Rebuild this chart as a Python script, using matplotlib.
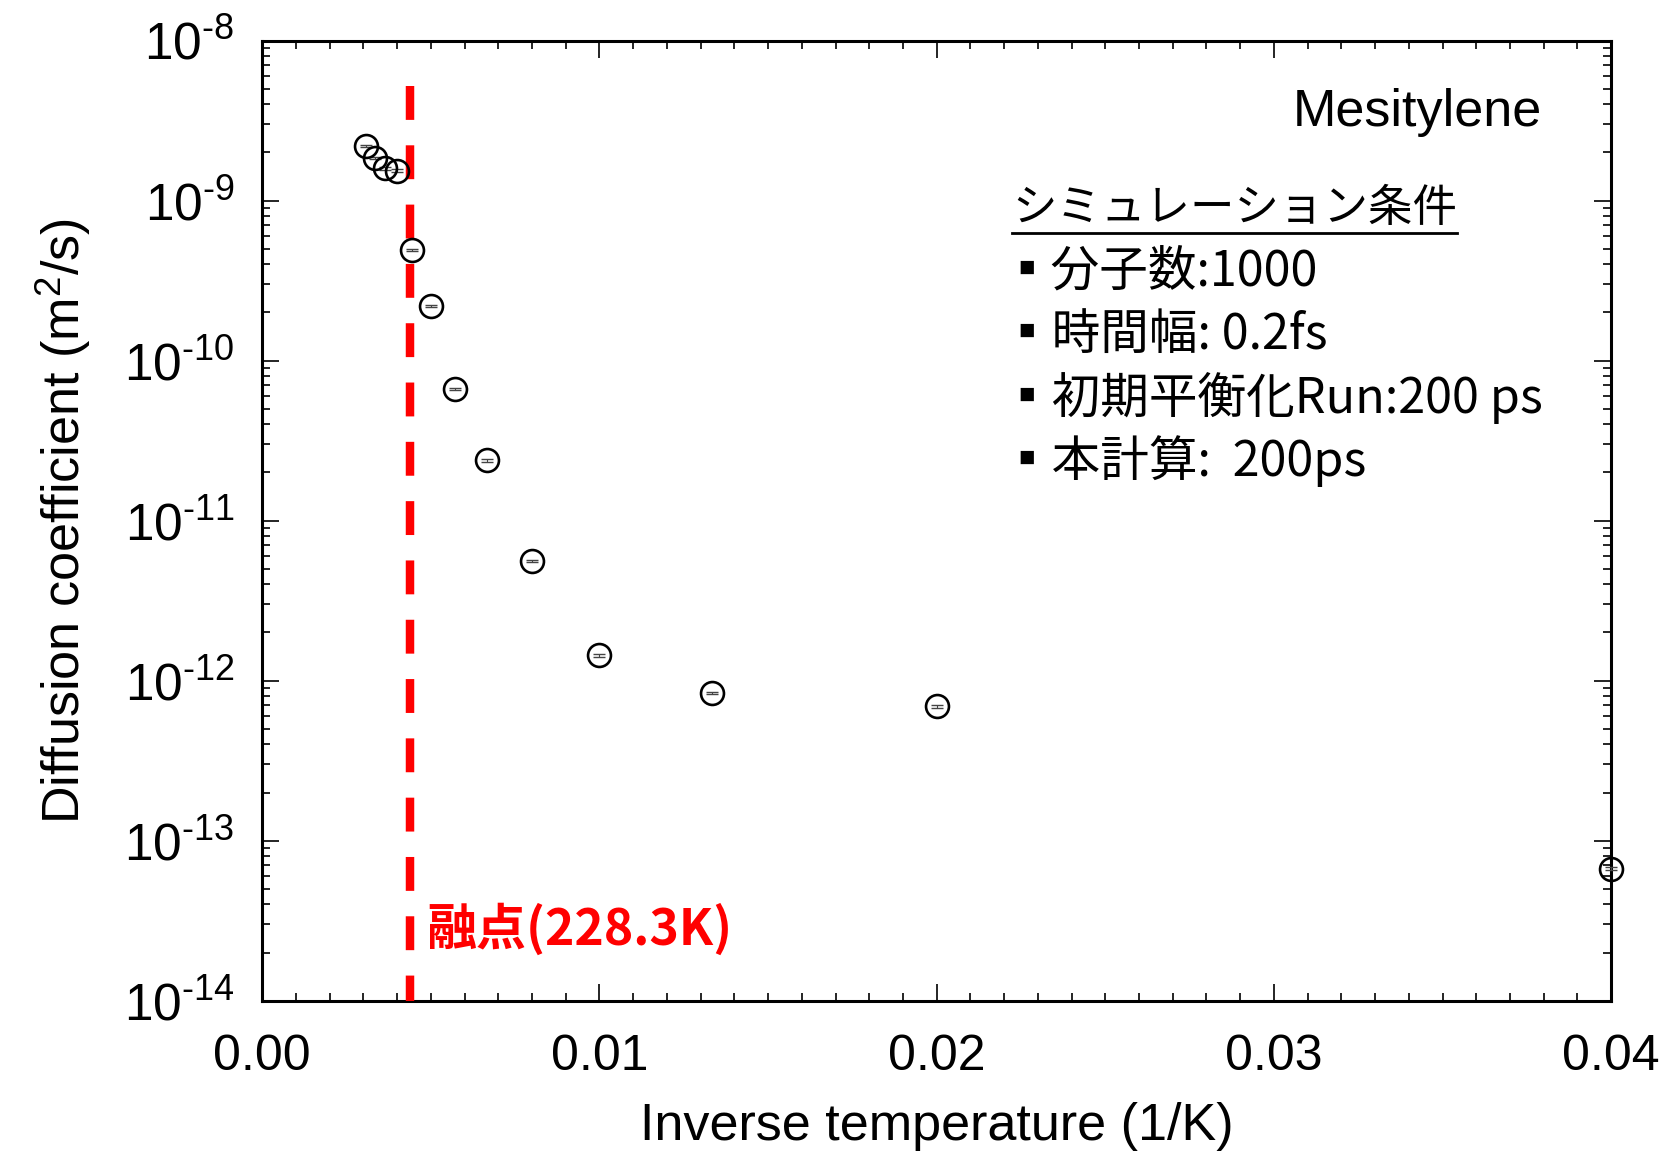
import numpy as np
import matplotlib
matplotlib.use("Agg")
import matplotlib.pyplot as plt
from matplotlib.ticker import MultipleLocator, LogLocator, NullFormatter, FuncFormatter

plt.rcParams["font.family"] = ["Liberation Sans", "Noto Sans CJK JP", "DejaVu Sans"]
plt.rcParams["mathtext.fontset"] = "custom"
plt.rcParams["mathtext.rm"] = "Liberation Sans"
plt.rcParams["mathtext.it"] = "Liberation Sans:italic"

# MD results for mesitylene
temperature = [325, 298, 275, 250, 225, 200, 175, 150, 125, 100, 75, 50, 25]  # K
diffusion = [2.19e-9, 1.85e-9, 1.59e-9, 1.54e-9, 4.9e-10, 2.2e-10, 6.65e-11,
             2.38e-11, 5.6e-12, 1.44e-12, 8.4e-13, 6.9e-13, 6.7e-14]  # m^2/s
diffusion_err = [4e-11, 3e-11, 3e-11, 3e-11, 8e-12, 4e-12, 1.2e-12,
                 4e-13, 1e-13, 2.5e-14, 1.5e-14, 1.2e-14, 1.2e-15]
melting_point = 228.3  # K

title_text = "Mesitylene"
cond_header = "シミュレーション条件"
cond_lines = ["▪分子数:1000", "▪時間幅: 0.2fs", "▪初期平衡化Run:200 ps", "▪本計算:  200ps"]
mp_label = "融点(228.3K)"

inv_T = 1.0 / np.array(temperature)

fig = plt.figure(figsize=(16.71, 11.58), dpi=100)
ax = fig.add_axes([0.1569, 0.1358, 0.8073, 0.8292])

ax.errorbar(inv_T, diffusion, yerr=diffusion_err, fmt="none", ecolor="#444444",
            elinewidth=0.8, capsize=4, capthick=1.0, clip_on=False, zorder=5)
ax.plot(inv_T, diffusion, "o", mfc="none", mec="black", ms=16.5, mew=1.9,
        clip_on=False, zorder=6)

# melting point marker line
x_mp = 1.0 / melting_point
ax.plot([x_mp, x_mp], [5.2e-9, 1e-14], color="red", lw=6.1,
        linestyle=(0, (4, 3)), solid_capstyle="butt", zorder=4)

ax.set_xlim(0, 0.04)
ax.set_yscale("log")
ax.set_ylim(1e-14, 1e-8)

ax.xaxis.set_major_locator(MultipleLocator(0.01))
ax.xaxis.set_minor_locator(MultipleLocator(0.001))
ax.xaxis.set_major_formatter(matplotlib.ticker.FormatStrFormatter("%.2f"))
ax.yaxis.set_major_locator(LogLocator(base=10, numticks=10))
ax.yaxis.set_minor_locator(LogLocator(base=10, subs=np.arange(2, 10), numticks=20))
ax.yaxis.set_minor_formatter(NullFormatter())
ax.yaxis.set_major_formatter(
    FuncFormatter(lambda v, p: r"$10^{\text{%d}}$" % int(round(np.log10(v)))))

ax.tick_params(which="both", direction="in", top=True, right=True,
               labelsize=36, width=1.2, colors="black")
ax.tick_params(axis="x", which="major", length=12, pad=24)
ax.tick_params(axis="y", which="major", length=12, pad=20, labelsize=37)
ax.tick_params(which="minor", length=6)
for sp in ax.spines.values():
    sp.set_linewidth(2.2)

ax.set_xlabel("Inverse temperature (1/K)", fontsize=37.5, labelpad=16)
ax.set_ylabel("Diffusion coefficient (m$^2$/s)", fontsize=37.5, labelpad=22)

ax.text(0.949, 0.925, title_text, transform=ax.transAxes, fontsize=37.5,
        ha="right", va="center")

jp = ["Noto Sans CJK JP", "DejaVu Sans"]
hdr = ax.text(0.556, 0.826, cond_header, transform=ax.transAxes, fontsize=32,
              ha="left", va="center", family=jp)
for i, line in enumerate(cond_lines):
    ax.text(0.549, 0.759 - i * 0.0655, line, transform=ax.transAxes,
            fontsize=35, ha="left", va="center", family=jp)

ax.text(0.1216, 0.0744, mp_label, transform=ax.transAxes, fontsize=36,
        ha="left", va="center", color="red", fontweight="bold", family=jp)

# underline the header
fig.canvas.draw()
bb = hdr.get_window_extent().transformed(ax.transAxes.inverted())
ax.plot([bb.x0, bb.x1], [bb.y0 - 0.002, bb.y0 - 0.002], color="black", lw=2,
        transform=ax.transAxes, clip_on=False)

fig.savefig("out.png", dpi=100)
